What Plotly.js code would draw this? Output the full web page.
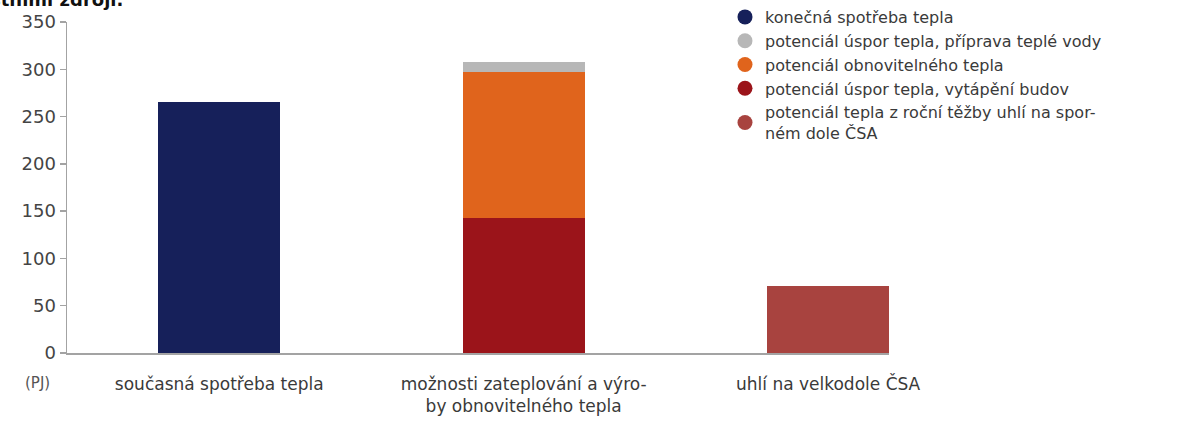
<!DOCTYPE html>
<html>
<head>
<meta charset="utf-8">
<script src="https://cdn.plot.ly/plotly-3.0.1.min.js"></script>
<style>
html,body{margin:0;padding:0;background:#fff;}
#chart{width:1180px;height:430px;}
</style>
</head>
<body>
<div id="chart"></div>
<script>
// ---- data ----
const categories = [
  "současná spotřeba tepla",
  "možnosti zateplování a výro-<br>by obnovitelného tepla",
  "uhlí na velkodole ČSA"
];
const konecnaSpotreba = [265, null, null];        // konečná spotřeba tepla
const usporyBudovy   = [null, 143, null];         // potenciál úspor tepla, vytápění budov
const obnovitelne    = [null, 154, null];         // potenciál obnovitelného tepla
const usporyVoda     = [null, 11, null];          // potenciál úspor tepla, příprava teplé vody
const uhliCSA        = [null, null, 71];          // potenciál tepla z roční těžby uhlí
const yTicks = [0, 50, 100, 150, 200, 250, 300, 350];
const legendNames = [
  "konečná spotřeba tepla",
  "potenciál úspor tepla, příprava teplé vody",
  "potenciál obnovitelného tepla",
  "potenciál úspor tepla, vytápění budov",
  "potenciál tepla z roční těžby uhlí na spor-<br>ném dole ČSA"
];
const unitLabel = "(PJ)";
const titleFragment = "vlastními zdroji.";

// ---- styles ----
const C = {
  navy: "#16205a",
  gray: "#b7b7b7",
  orange: "#e0641c",
  red: "#9b141a",
  muted: "#a8433f"
};
const FONT = "DejaVu Sans, Verdana, sans-serif";
const TXT = "#3a3a3a";

function bar(y, color) {
  return {type: "bar", x: categories, y: y, marker: {color: color, line: {width: 0}},
          showlegend: false, hoverinfo: "skip"};
}
function leg(name, color) {
  return {type: "scatter", mode: "markers", x: [categories[0]], y: [null], name: name,
          marker: {color: color, size: 15, symbol: "circle"}, showlegend: true, hoverinfo: "skip"};
}

const traces = [
  bar(konecnaSpotreba, C.navy),
  bar(usporyBudovy, C.red),
  bar(obnovitelne, C.orange),
  bar(usporyVoda, C.gray),
  bar(uhliCSA, C.muted),
  leg(legendNames[0], C.navy),
  leg(legendNames[1], C.gray),
  leg(legendNames[2], C.orange),
  leg(legendNames[3], C.red),
  leg(legendNames[4], C.muted)
];

const layout = {
  width: 1180, height: 430,
  margin: {l: 67, r: 291, t: 22, b: 77, pad: 0, autoexpand: false},
  paper_bgcolor: "#fff", plot_bgcolor: "#fff",
  font: {family: FONT, color: TXT, size: 17},
  barmode: "stack",
  bargap: 0.6,
  showlegend: true,
  legend: {
    xref: "container", yref: "container",
    x: 0.6144, y: 1.012, xanchor: "left", yanchor: "top",
    bgcolor: "rgba(0,0,0,0)", borderwidth: 0,
    font: {family: FONT, size: 16, color: TXT},
    traceorder: "normal", itemclick: false
  },
  xaxis: {
    type: "category",
    range: [-0.5, 2.2],
    showline: true, linecolor: "#a3a3a3", linewidth: 1.5,
    ticks: "", showgrid: false, zeroline: false,
    tickfont: {family: FONT, size: 17, color: TXT},
    ticklabelstandoff: 15,
    fixedrange: true
  },
  yaxis: {
    range: [0, 350],
    tickvals: yTicks,
    ticktext: yTicks.map(String),
    showline: true, linecolor: "#a3a3a3", linewidth: 1.5,
    ticks: "outside", ticklen: 6, tickcolor: "#a3a3a3", tickwidth: 1.5,
    showgrid: false, zeroline: false,
    tickfont: {family: FONT, size: 18, color: "#444"},
    fixedrange: true
  },
  annotations: [
    {text: unitLabel, xref: "paper", yref: "paper", x: -0.0353, y: -0.0906,
     xanchor: "center", yanchor: "middle", showarrow: false,
     font: {family: FONT, size: 15, color: "#555"}},
    {text: "<b>" + titleFragment + "</b>", xref: "paper", yref: "paper",
     x: 0.0706, y: 1.0665, xanchor: "right", yanchor: "middle", showarrow: false,
     font: {family: FONT, size: 18, color: "#111"}}
  ]
};

Plotly.newPlot("chart", traces, layout, {displayModeBar: false, staticPlot: true});
</script>
</body>
</html>
